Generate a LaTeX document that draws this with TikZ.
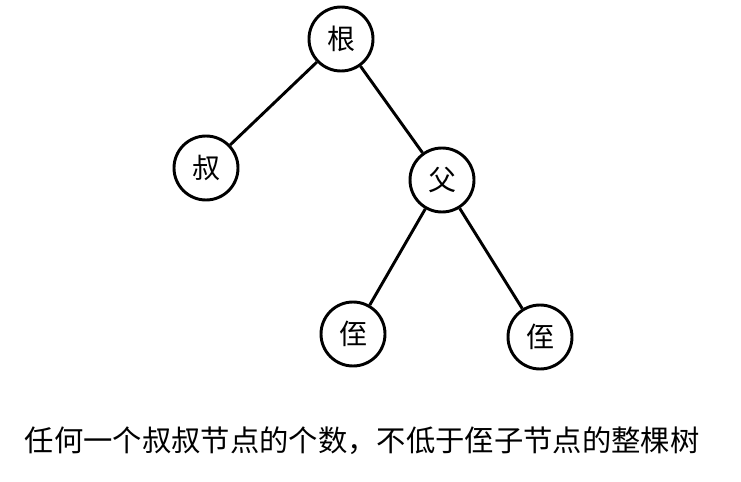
\documentclass[tikz,border=0pt]{standalone}
\usepackage{fontspec}
\newfontfamily\cjk{Noto Sans CJK SC}
\usepackage{tikz}

\begin{document}
\begin{tikzpicture}[x=0.75pt,y=-0.75pt,
    tnode/.style={draw, circle, line width=2.2pt, minimum size=48pt, inner sep=0pt, font=\cjk\fontsize{21}{25}\selectfont},
    edge/.style={line width=2.2pt}]
\useasboundingbox (0,0) rectangle (741,481);

\node[tnode] (root) at (341,39) {根};
\node[tnode] (uncle) at (206,168) {叔};
\node[tnode] (father) at (442,180) {父};
\node[tnode] (nephewL) at (353,334) {侄};
\node[tnode] (nephewR) at (540,337) {侄};

\draw[edge] (root) -- (uncle);
\draw[edge] (root) -- (father);
\foreach \n in {nephewL, nephewR}
    \draw[edge] (father) -- (\n);

\node[font=\cjk\fontsize{22}{26}\selectfont] (caption) at (362,441) {任何一个叔叔节点的个数，不低于侄子节点的整棵树};
\end{tikzpicture}
\end{document}
